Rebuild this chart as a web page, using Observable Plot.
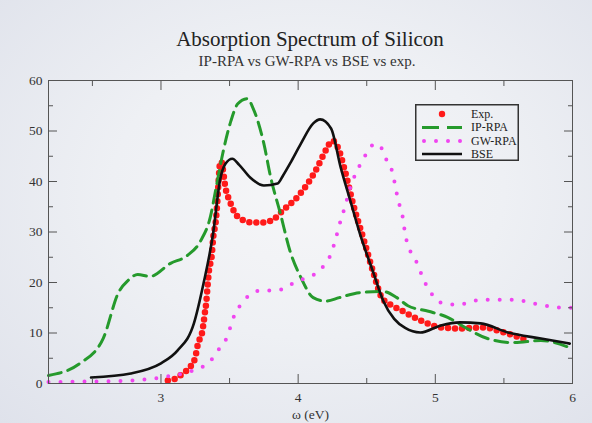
<!DOCTYPE html>
<html><head><meta charset="utf-8">
<script src="https://cdn.jsdelivr.net/npm/d3@7"></script>
<script src="https://cdn.jsdelivr.net/npm/@observablehq/plot@0.6"></script>
<style>
html,body{margin:0;padding:0;}
#page{position:relative;width:592px;height:423px;overflow:hidden;
  background:radial-gradient(ellipse at 52% 45%, #f6f6f8 0%, #eef0f4 45%, #dfe2eb 100%);
  font-family:"Liberation Serif","DejaVu Serif",serif;color:#333;}
#head{position:relative;height:72px;}
#title{position:absolute;left:48px;width:524px;top:29px;text-align:center;font-size:21px;line-height:21px;color:#222;}
#sub{position:absolute;left:48px;width:518px;top:54px;text-align:center;font-size:15px;line-height:15px;color:#333;}
#chart svg{display:block;}
#chart svg, #chart svg text{font-family:"Liberation Serif","DejaVu Serif",serif !important;font-size:13.5px !important;}
#legend{position:absolute;left:415px;top:104px;}
#legend svg{overflow:visible;}
</style></head><body>
<div id="page">
  <div id="head"><div id="title">Absorption Spectrum of Silicon</div><div id="sub">IP-RPA vs GW-RPA vs BSE vs exp.</div></div>
  <div id="chart"></div>
  <div id="legend"></div>
</div>
<script>
// ---- data (energy in eV, absorption) ----
const expData = [[3.05,0.6],[3.11,1.0],[3.16,2.0],[3.21,3.2],[3.25,5.2],[3.27,7.9],[3.30,10.1],[3.31,11.9],[3.32,14.0],[3.33,16.0],[3.34,19.4],[3.35,22.4],[3.37,25.3],[3.38,28.7],[3.40,32.3],[3.41,35.6],[3.42,40.2],[3.43,43.5],[3.44,44.0],[3.45,42.6],[3.47,38.8],[3.50,36.2],[3.54,33.7],[3.60,32.3],[3.65,31.9],[3.75,31.9],[3.82,32.5],[3.89,34.3],[3.99,36.8],[4.07,39.6],[4.14,42.8],[4.20,46.1],[4.25,48.1],[4.29,46.7],[4.34,42.2],[4.40,35.6],[4.48,28.3],[4.55,21.8],[4.61,17.0],[4.68,15.5],[4.75,14.5],[4.89,12.5],[5.04,11.1],[5.18,10.9],[5.35,11.1],[5.50,10.1],[5.64,8.9],[5.68,8.6]];
const ipRpa = [[2.18,1.6],[2.41,4.0],[2.58,9.0],[2.69,18.0],[2.76,20.4],[2.83,21.6],[2.92,21.2],[3.07,23.8],[3.19,25.3],[3.29,28.3],[3.36,33.0],[3.40,38.5],[3.45,45.5],[3.51,52.0],[3.56,55.4],[3.63,56.4],[3.67,54.6],[3.75,47.5],[3.80,40.8],[3.87,33.7],[3.94,26.3],[4.02,21.0],[4.11,17.0],[4.20,16.3],[4.30,17.0],[4.45,18.0],[4.62,18.2],[4.72,17.0],[4.80,15.4],[4.95,14.3],[5.09,13.1],[5.23,10.9],[5.38,8.9],[5.57,8.1],[5.77,8.5],[5.98,7.1]];
const gwRpa = [[2.18,0.3],[2.50,0.4],[2.80,0.6],[3.00,1.2],[3.19,2.2],[3.32,3.6],[3.38,5.1],[3.43,7.1],[3.48,9.1],[3.51,11.5],[3.54,13.9],[3.59,15.8],[3.64,17.4],[3.73,18.4],[3.81,18.4],[3.90,18.8],[3.97,20.0],[4.07,21.0],[4.14,22.0],[4.20,23.8],[4.24,25.7],[4.27,28.3],[4.31,32.3],[4.34,34.9],[4.38,38.8],[4.43,42.2],[4.47,44.2],[4.51,46.1],[4.56,47.5],[4.62,46.1],[4.65,43.8],[4.69,41.6],[4.71,38.8],[4.73,36.2],[4.76,33.3],[4.78,29.7],[4.80,27.3],[4.84,25.3],[4.88,23.0],[4.91,20.8],[4.95,18.8],[5.00,16.8],[5.07,15.8],[5.16,15.6],[5.24,16.0],[5.33,16.6],[5.42,16.6],[5.51,16.6],[5.60,16.6],[5.68,16.0],[5.77,15.6],[5.85,15.2],[5.93,15.0],[6.00,15.0]];
const bse = [[2.49,1.2],[2.78,2.0],[3.00,4.0],[3.12,6.5],[3.24,11.9],[3.31,19.8],[3.38,29.7],[3.43,40.2],[3.47,43.5],[3.52,44.5],[3.57,43.3],[3.65,40.8],[3.75,39.2],[3.85,39.6],[3.89,41.2],[3.95,44.0],[4.02,47.5],[4.11,51.5],[4.16,52.3],[4.24,50.5],[4.31,42.8],[4.38,36.2],[4.45,29.7],[4.55,21.8],[4.62,16.4],[4.70,12.8],[4.78,11.0],[4.89,10.1],[5.04,11.5],[5.18,12.1],[5.33,11.9],[5.53,10.1],[5.77,8.9],[5.98,7.9]];

const xDomain = [2.18, 6];
const yDomain = [0, 60];
const xMajor = [3, 4, 5, 6];
const xMinor = [2.5, 3.5, 4.5, 5.5];
const yMajor = [0, 10, 20, 30, 40, 50, 60];
const yMinor = [5, 15, 25, 35, 45, 55];
const legendLabels = ["Exp.", "IP-RPA", "GW-RPA", "BSE"];

const C = {exp: "#ff1a1a", ip: "#259a2c", gw: "#f045f0", bse: "#111111", axis: "#555555"};
const X = d => d[0], Y = d => d[1];
const blank = () => "";
const plain = d => String(d);

const chart = Plot.plot({
  width: 592, height: 351,
  marginTop: 8, marginBottom: 40, marginLeft: 48, marginRight: 20,
  style: {background: "transparent", fontFamily: "'Liberation Serif', 'DejaVu Serif', serif", fontSize: "13.5px", color: "#333"},
  x: {domain: xDomain},
  y: {domain: yDomain},
  marks: [
    Plot.line(expData, {x: X, y: Y, stroke: C.exp, strokeWidth: 6.5, strokeDasharray: "0,7", strokeLinecap: "round", curve: "monotone-x"}),
    Plot.line(ipRpa, {x: X, y: Y, stroke: C.ip, strokeWidth: 3, strokeDasharray: "13,7", curve: "monotone-x"}),
    Plot.line(gwRpa, {x: X, y: Y, stroke: C.gw, strokeWidth: 4, strokeDasharray: "0,12", strokeLinecap: "round", curve: "monotone-x"}),
    Plot.line(bse, {x: X, y: Y, stroke: C.bse, strokeWidth: 2.6, curve: "monotone-x"}),
    Plot.frame({stroke: C.axis, strokeWidth: 1}),
    Plot.axisX(xMajor, {anchor: "bottom", tickSize: -9, tickPadding: 18, tickFormat: plain, stroke: C.axis, label: "ω (eV)", labelAnchor: "center", labelArrow: "none", labelOffset: 35}),
    Plot.axisX(xMinor, {anchor: "bottom", tickSize: -5, tickFormat: blank, stroke: C.axis, label: null}),
    Plot.axisX(xMajor, {anchor: "top", tickSize: -9, tickFormat: blank, stroke: C.axis, label: null}),
    Plot.axisX(xMinor, {anchor: "top", tickSize: -5, tickFormat: blank, stroke: C.axis, label: null}),
    Plot.axisY(yMajor, {anchor: "left", tickSize: -9, tickPadding: 15, tickFormat: plain, stroke: C.axis, label: null}),
    Plot.axisY(yMinor, {anchor: "left", tickSize: -5, tickFormat: blank, stroke: C.axis, label: null}),
    Plot.axisY(yMajor, {anchor: "right", tickSize: -9, tickFormat: blank, stroke: C.axis, label: null}),
    Plot.axisY(yMinor, {anchor: "right", tickSize: -5, tickFormat: blank, stroke: C.axis, label: null})
  ]
});
document.getElementById("chart").appendChild(chart);

// ---- legend box ----
const lw = 104, lh = 57;
const rowsY = [10, 23.5, 37, 50];
const lg = d3.select("#legend").append("svg").attr("width", lw).attr("height", lh)
  .style("font-family", "'Liberation Serif', 'DejaVu Serif', serif").style("font-size", "12px");
lg.append("rect").attr("x", 0.75).attr("y", 0.75).attr("width", lw - 1.5).attr("height", lh - 1.5)
  .attr("fill", "none").attr("stroke", "#333").attr("stroke-width", 1.5);
lg.append("circle").attr("cx", 27).attr("cy", rowsY[0]).attr("r", 3.2).attr("fill", C.exp);
lg.append("line").attr("x1", 7).attr("x2", 47).attr("y1", rowsY[1]).attr("y2", rowsY[1])
  .attr("stroke", C.ip).attr("stroke-width", 3).attr("stroke-dasharray", "17,8");
lg.append("line").attr("x1", 9).attr("x2", 47).attr("y1", rowsY[2]).attr("y2", rowsY[2])
  .attr("stroke", C.gw).attr("stroke-width", 4).attr("stroke-linecap", "round").attr("stroke-dasharray", "0,12");
lg.append("line").attr("x1", 7).attr("x2", 47).attr("y1", rowsY[3]).attr("y2", rowsY[3])
  .attr("stroke", C.bse).attr("stroke-width", 2.6);
lg.selectAll("text.lab").data(legendLabels).join("text").attr("class", "lab")
  .attr("x", 56).attr("y", (d, i) => rowsY[i]).attr("dy", "0.33em").attr("fill", "#222").text(d => d);
</script>
</body></html>
